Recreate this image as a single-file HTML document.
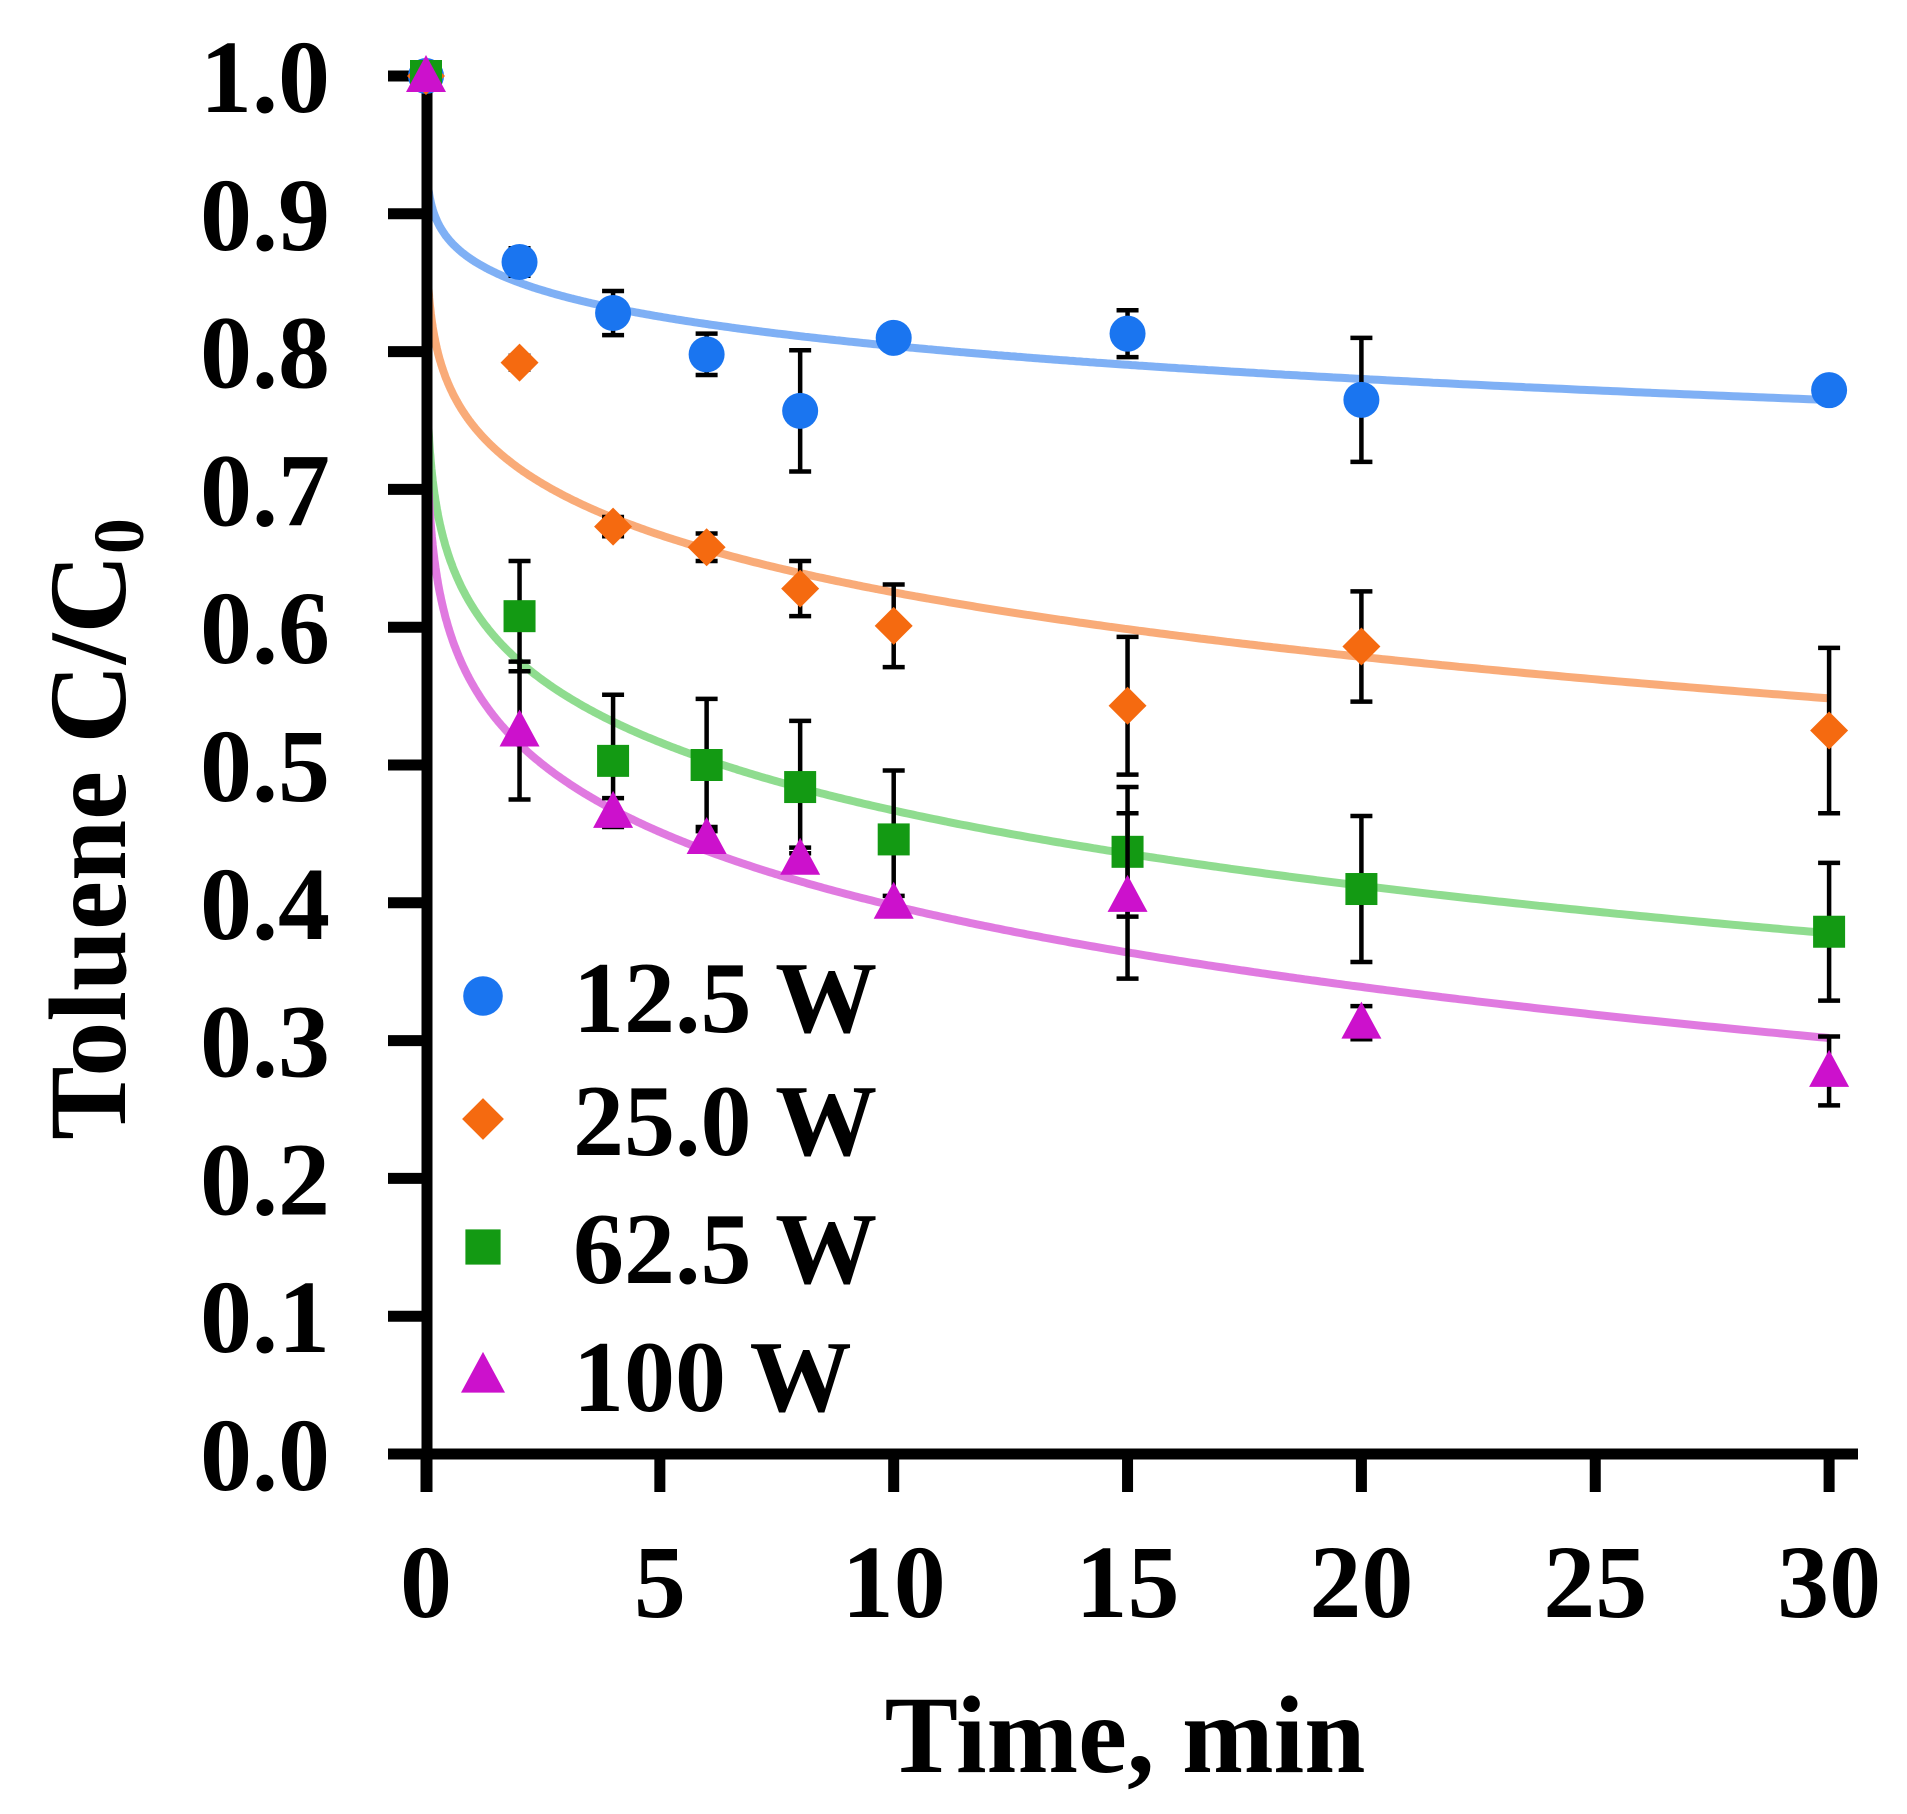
<!DOCTYPE html>
<html><head><meta charset="utf-8"><style>
html,body{margin:0;padding:0;background:#fff;}
svg{display:block;font-family:"Liberation Serif",serif;font-weight:bold;}
</style></head><body>
<svg id="c" width="1907" height="1814" viewBox="0 0 1907 1814" xmlns="http://www.w3.org/2000/svg"></svg>
<script>
const S=document.getElementById('c');
const X=t=>426+46.77*t, Y=v=>1454-v*1378;
let h='';
const fits=[['#7fb0f5',0.15,0.166],['#f9ab78',0.285,0.170],['#8fdc8f',0.425,0.1407],['#e07ae0',0.485,0.1345]];
for(const [c,k,p] of fits){
  let d='M'+X(0)+','+Y(1);
  for(let i=1;i<=600;i++){const t=30*Math.pow(i/600,2.2);const y=1-k*Math.pow(t/2,p);d+=' L'+X(t).toFixed(1)+','+Y(y).toFixed(1);}
  h+=`<path d="${d}" fill="none" stroke="${c}" stroke-width="8"/>`;
}
h+=`<line x1="388" y1="1454" x2="1858" y2="1454" stroke="#000" stroke-width="11"/>`;
h+=`<line x1="427" y1="70" x2="427" y2="1492" stroke="#000" stroke-width="11"/>`;
for(let i=0;i<=10;i++){const y=Y(i/10);h+=`<line x1="388" y1="${y}" x2="427" y2="${y}" stroke="#000" stroke-width="11"/>`;
 h+=`<text x="330" y="${y+36}" font-size="104" text-anchor="end">${(i/10).toFixed(1)}</text>`;}
for(let t=0;t<=30;t+=5){const x=X(t);h+=`<line x1="${x}" y1="1454" x2="${x}" y2="1492" stroke="#000" stroke-width="11"/>`;
 h+=`<text x="${x}" y="1617" font-size="104" text-anchor="middle">${t}</text>`;}
h+=`<text x="1125" y="1772" font-size="110" text-anchor="middle">Time, min</text>`;
h+=`<text transform="translate(125,829) rotate(-90)" font-size="110" text-anchor="middle">Toluene C/C<tspan font-size="72" dy="18">0</tspan></text>`;
const ts=[2,4,6,8,10,15,20,30];
const D=[
 ['#1a75f0','c',[[.865,.01],[.828,.016],[.798,.015],[.757,.044],[.81,.005],[.813,.017],[.765,.045],[.772,.005]]],
 ['#f56a10','d',[[.792,.005],[.673,.007],[.658,.01],[.628,.02],[.601,.03],[.543,.05],[.586,.04],[.525,.06]]],
 ['#139a13','s',[[.608,.04],[.503,.048],[.5,.048],[.484,.048],[.446,.05],[.437,.047],[.41,.053],[.379,.05]]],
 ['#cc11cc','t',[[.525,.05],[.466,.01],[.447,.008],[.432,.008],[.4,.005],[.405,.06],[.313,.012],[.278,.025]]]
];
function mk(type,x,y,c,s){s=s||1;
 if(type=='c')return `<circle cx="${x}" cy="${y}" r="${18*s}" fill="${c}"/>`;
 if(type=='d')return `<polygon points="${x},${y-19*s} ${x+19*s},${y} ${x},${y+19*s} ${x-19*s},${y}" fill="${c}"/>`;
 if(type=='s')return `<rect x="${x-16*s}" y="${y-16*s}" width="${32*s}" height="${32*s}" fill="${c}"/>`;
 return `<polygon points="${x},${y-21*s} ${x+20*s},${y+16*s} ${x-20*s},${y+16*s}" fill="${c}"/>`;
}
for(const [c,type,pts] of D){
 pts.forEach(([v,e],i)=>{const x=X(ts[i]);const a=Y(v+e),b=Y(v-e);
  h+=`<path d="M${x},${a} V${b} M${x-11},${a} H${x+11} M${x-11},${b} H${x+11}" stroke="#000" stroke-width="4.5" fill="none"/>`;});
 pts.forEach(([v,e],i)=>{h+=mk(type,X(ts[i]),Y(v),c);});
 h+=mk(type,X(0),Y(1),c);
}
const L=[['#1a75f0','c','12.5 W',996],['#f56a10','d','25.0 W',1119],['#139a13','s','62.5 W',1247],['#cc11cc','t','100 W',1375]];
for(const [c,t,s,y] of L){h+=mk(t,483,y,c,1.1);h+=`<text x="573" y="${y+36}" font-size="102">${s}</text>`;}
S.innerHTML=h;
</script>
</body></html>
